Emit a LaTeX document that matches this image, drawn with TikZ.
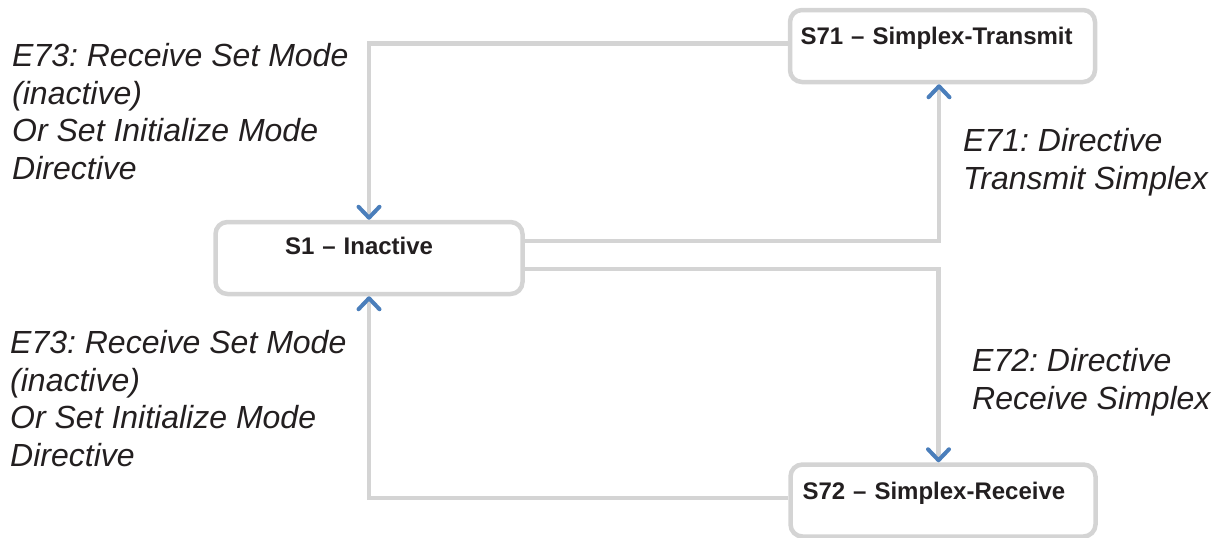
\documentclass[tikz,border=0pt]{standalone}
\usepackage{fontspec}
\setsansfont{Liberation Sans}
\usetikzlibrary{arrows.meta}
\frenchspacing
\definecolor{linegrey}{HTML}{D4D4D4}
\definecolor{arrowblue}{HTML}{4A7EBB}
\definecolor{inktext}{HTML}{231F20}
\tikzset{
  state/.style={draw=linegrey, line width=4.5pt, rounded corners=12pt, fill=white,
    minimum width=305pt, minimum height=72pt, text width=284pt, align=left,
    inner xsep=10.5pt, inner ysep=0pt, text height=20pt, text depth=22.8pt,
    text=inktext, font=\sffamily\bfseries\fontsize{24}{28}\selectfont},
  event/.style={anchor=west, align=left, inner sep=0pt, text=inktext,
    font=\sffamily\itshape\fontsize{32}{37.7}\selectfont},
  conn/.style={draw=linegrey, line width=4.5pt,
    -{Straight Barb[color=arrowblue, length=11pt, width=21pt, line width=4pt, round]}}
}
\begin{document}
\begin{tikzpicture}[x=1pt, y=-1pt]
  \useasboundingbox (0,0) rectangle (1221,538);

  \node[state] (s71) at (942.5,46) {S71 -- Simplex-Transmit};
  \node[state, inner xsep=69.5pt, text width=168pt, text depth=26.8pt] (s1) at (369,258) {S1 -- Inactive};
  \node[state, inner xsep=12pt, text width=281pt] (s72) at (943,500.5) {S72 -- Simplex-Receive};

  \draw[conn] ([yshift=2.5pt]s71.west) -| (s1.north);
  \draw[conn] ([yshift=17pt]s1.east) -| ([xshift=-3.5pt]s71.south);
  \draw[conn] ([yshift=-11pt]s1.east) -| ([xshift=-4.5pt]s72.north);
  \draw[conn] ([yshift=2.5pt]s72.west) -| (s1.south);

  \node[event] (e73a) at (12,111.5) {E73: Receive Set Mode\\(inactive)\\Or Set Initialize Mode\\Directive};
  \node[event] (e73b) at (10,398.5) {E73: Receive Set Mode\\(inactive)\\Or Set Initialize Mode\\Directive};
  \node[event] (e71) at (963,162.5) {E71: Directive\\Transmit Simplex};
  \node[event] (e72) at (972,382.5) {E72: Directive\\Receive Simplex};
\end{tikzpicture}
\end{document}
